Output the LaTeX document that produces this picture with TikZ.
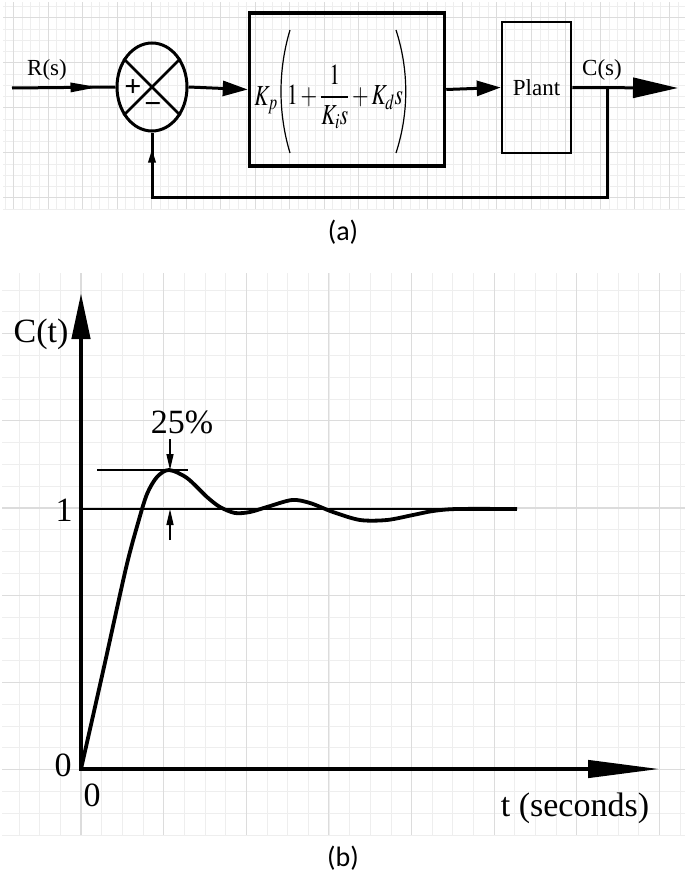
\documentclass[tikz,border=0pt]{standalone}
\usepackage{amsmath}
\usepackage{mathptmx}
\usepackage{graphicx}
\usepackage{fontspec}
\setmainfont{Liberation Serif}
\newfontfamily\capfont{Carlito}
\usetikzlibrary{shapes.geometric,arrows.meta,decorations.markings}
\definecolor{gridminor}{HTML}{EEEEEE}
\definecolor{gridmajor}{HTML}{DCDCDC}
\newcommand{\narrow}[1]{\scalebox{0.74}[1]{#1}}

\begin{document}
\begin{tikzpicture}[x=1pt,y=-1pt,
    minor/.style={draw=gridminor,line width=0.8pt},
    major/.style={draw=gridmajor,line width=1.1pt},
    wire/.style={line width=3pt},
    block/.style={draw,rectangle,inner sep=0pt},
    lbl/.style={font=\fontsize{23}{27}\selectfont,inner sep=0pt},
    frm/.style={font=\fontsize{29}{33}\selectfont,inner sep=0pt},
    big/.style={font=\fontsize{34}{40}\selectfont,inner sep=0pt},
    caption/.style={font=\capfont\fontsize{28}{32}\selectfont,inner sep=0pt}]
        \useasboundingbox (0,0) rectangle (685,881);

        % grid behind (a)
        \foreach \i in {0,...,78}
            \draw[minor] ({4.9+8.63*\i},2) -- ({4.9+8.63*\i},209);
        \foreach \j in {0,...,18}
            \draw[minor] (3,{209-11.25*\j}) -- (685,{209-11.25*\j});
        \foreach \i in {1,5,...,77}
            \draw[major] ({4.9+8.63*\i},2) -- ({4.9+8.63*\i},209);
        \foreach \j in {1,5,...,17}
            \draw[major] (3,{209-11.25*\j}) -- (685,{209-11.25*\j});

        % grid behind (b)
        \foreach \i in {-3,...,29}
            \draw[minor] ({81+20.66*\i},273) -- ({81+20.66*\i},835);
        \foreach \j in {0,...,25}
            \draw[minor] (2,{835-21.8*\j}) -- (685,{835-21.8*\j});
        \foreach \i in {0,4,...,28}
            \draw[major] ({81+20.66*\i},273) -- ({81+20.66*\i},835);
        \foreach \j in {3,7,...,23}
            \draw[major] (2,{835-21.8*\j}) -- (685,{835-21.8*\j});

        % (a) block diagram
        \coordinate (in) at (12,88);
        \coordinate (out) at (678,88);
        \coordinate (br) at (607,88);
        \coordinate (fb) at (607,197);
        \node[draw,ellipse,line width=3pt,minimum width=70pt,minimum height=88pt,inner sep=0pt] (sum) at (152,87) {};
        \draw[line width=2.5pt] (sum.45) -- (sum.225) (sum.135) -- (sum.315);
        \node[font=\bfseries\fontsize{30}{30}\selectfont,inner sep=0pt] (plus) at (133,88) {+};
        \node[font=\bfseries\fontsize{30}{30}\selectfont,inner sep=0pt] (minus) at (153,108) {−};
        \node[block,line width=3.5pt,minimum width=195pt,minimum height=153pt] (ctrl) at (347,89.5) {};
        \node[block,line width=2.5pt,minimum width=69pt,minimum height=131pt,lbl] (plant) at (536.5,87.5) {Plant};
        \node[frm] (kp) at (266,100) {\narrow{$K_p$}};
        \node[frm] (terms) at (345,97) {\narrow{$1+\dfrac{1}{K_i s}+K_d s$}};
        \draw[line width=1.2pt] (290,30) .. controls (278,70) and (278,113) .. (290,153);
        \draw[line width=1.2pt] (396,30) .. controls (409,70) and (409,113) .. (396,153);
        \node[lbl] (R) at (47,70) {R(s)};
        \node[lbl] (C) at (602,70) {C(s)};

        \draw[wire,postaction={decorate},
            decoration={markings,mark=at position -17pt with {\arrow{Triangle[length=28pt,width=9pt]}}}]
            (in) -- (sum.west);
        \draw[wire,-{Triangle[length=25pt,width=15pt]}] (sum.east) -- (ctrl.west);
        \draw[wire,-{Triangle[length=24pt,width=15pt]}] (ctrl.east) -- (plant.west);
        \draw[wire,-{Triangle[length=45pt,width=20pt]}] (plant.east) -- (out);
        \draw[wire,postaction={decorate},
            decoration={markings,mark=at position -16pt with {\arrow{Triangle[length=14pt,width=7pt]}}}]
            (br)
            -- (fb)
            -| (sum.south);
        \node[caption] (capa) at (343,232) {(a)};

        % (b) step response
        \coordinate (O) at (81,769);
        \coordinate (ytop) at (81,293);
        \coordinate (xend) at (660,769);
        \coordinate (one) at (81,509);
        \coordinate (oneend) at (517,509);
        \coordinate (pkl) at (97,470);
        \coordinate (pkr) at (188,470);
        \draw[line width=4.5pt,{Triangle[length=46pt,width=18pt]}-{Triangle[length=72pt,width=17pt]}]
            (ytop) -- (O) -- (xend);
        \draw[line width=1.2pt] (one) -- (oneend);
        \draw[line width=1.2pt] (pkl) -- (pkr);
        \draw[line width=3.8pt,line join=round] plot[smooth,tension=0.5] coordinates {
            (81,769) (104,667) (126,568) (138,523) (147,494) (157,477)
            (169,470) (187,478) (207,497) (220,507) (235,513) (250,512)
            (267,507) (292,500) (310,503) (333,512) (360,520) (387,520) (413,515)
            (433,511) (457,509) (517,509)};
        \coordinate (upA) at (170,439);
        \coordinate (upB) at (170,470);
        \coordinate (dnA) at (170,540);
        \coordinate (dnB) at (170,509);
        \draw[line width=1.5pt,-{Triangle[length=16pt,width=7pt]}] (upA) -- (upB);
        \draw[line width=1.5pt,-{Triangle[length=16pt,width=7pt]}] (dnA) -- (dnB);
        \node[big] (Ct) at (41,334) {C(t)};
        \node[big] (lone) at (64,510) {1};
        \node[big] (yzero) at (63,765) {0};
        \node[big] (xzero) at (92,795) {0};
        \node[big] (pct) at (182,422) {25\%};
        \node[big] (tlab) at (575,808) {t (seconds)};
        \node[caption] (capb) at (343,858) {(b)};
    \end{tikzpicture}
\end{document}
